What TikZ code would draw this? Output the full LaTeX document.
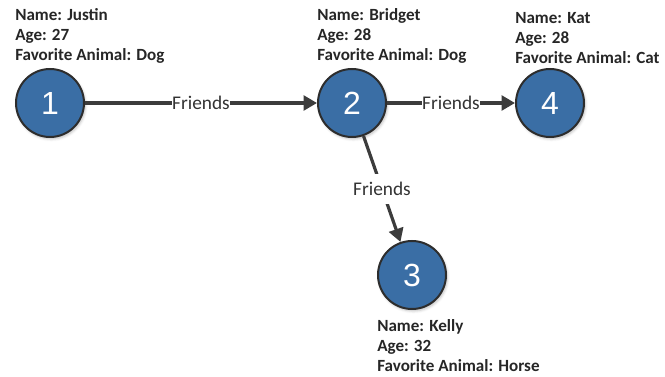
\documentclass[tikz,border=0pt]{standalone}
\usepackage{fontspec}
\setmainfont{Carlito}
\newfontfamily\digitfont{Liberation Sans}
\usetikzlibrary{positioning, arrows.meta, shadows.blur}

\definecolor{nodeBlue}{RGB}{58,110,165}
\definecolor{rimGray}{RGB}{45,45,45}
\definecolor{edgeGray}{RGB}{60,60,60}

\begin{document}
\begin{tikzpicture}[
    % Global Styles (1 unit = 1 pixel of the reference)
    x=0.75pt, y=-0.75pt,
    >={Triangle[length=10pt, width=11pt]},
    % The person circle
    person/.style={
        circle,
        draw=rimGray,
        line width=1.5pt,
        fill=nodeBlue,
        minimum size=51pt,
        inner sep=0pt,
        text=white,
        font=\digitfont\fontsize{24}{26}\selectfont,
        blur shadow={shadow blur steps=4, shadow xshift=1pt, shadow yshift=-1.5pt, shadow opacity=25}
    },
    % The info text next to each person
    info/.style={
        align=left,
        inner sep=0pt,
        font=\bfseries\fontsize{12.8}{15}\selectfont,
        text=black!85
    },
    % The connectors
    link/.style={
        ->,
        draw=edgeGray,
        line width=2.4pt
    },
    % The label on a connector
    tag/.style={
        fill=white,
        inner sep=0.5pt,
        font=\fontsize{14.5}{16}\selectfont,
        text=black!80
    }
]

    % --- Frame ---
    \useasboundingbox (0,0) rectangle (665,377);

    % --- People ---
    \node[person] (p1) at (50,103)  {1};
    \node[person] (p2) at (352,103) {2};
    \node[person] (p4) at (550,103) {4};
    \node[person] (p3) at (412,275) {3};

    % --- Info blocks ---
    \node[info, anchor=south west] (i1) at ([yshift=3pt]p1.west |- p1.north) {Name: Justin\\Age: 27\\Favorite Animal: Dog};
    \node[info, anchor=south west] (i2) at ([yshift=3pt]p2.west |- p2.north) {Name: Bridget\\Age: 28\\Favorite Animal: Dog};
    \node[info, anchor=south west] (i4) at ([yshift=3pt]p4.west |- p4.north) {Name: Kat\\Age: 28\\Favorite Animal: Cat};
    \node[info, anchor=north west] (i3) at ([yshift=-7pt]p3.west |- p3.south) {Name: Kelly\\Age: 32\\Favorite Animal: Horse};

    % --- Friendships ---
    \draw[link] (p1) -- node[tag] {Friends} (p2);
    \draw[link] (p2) -- node[tag] {Friends} (p4);
    \draw[link] (p2) -- node[tag, inner ysep=6pt] {Friends} (p3);

\end{tikzpicture}
\end{document}
